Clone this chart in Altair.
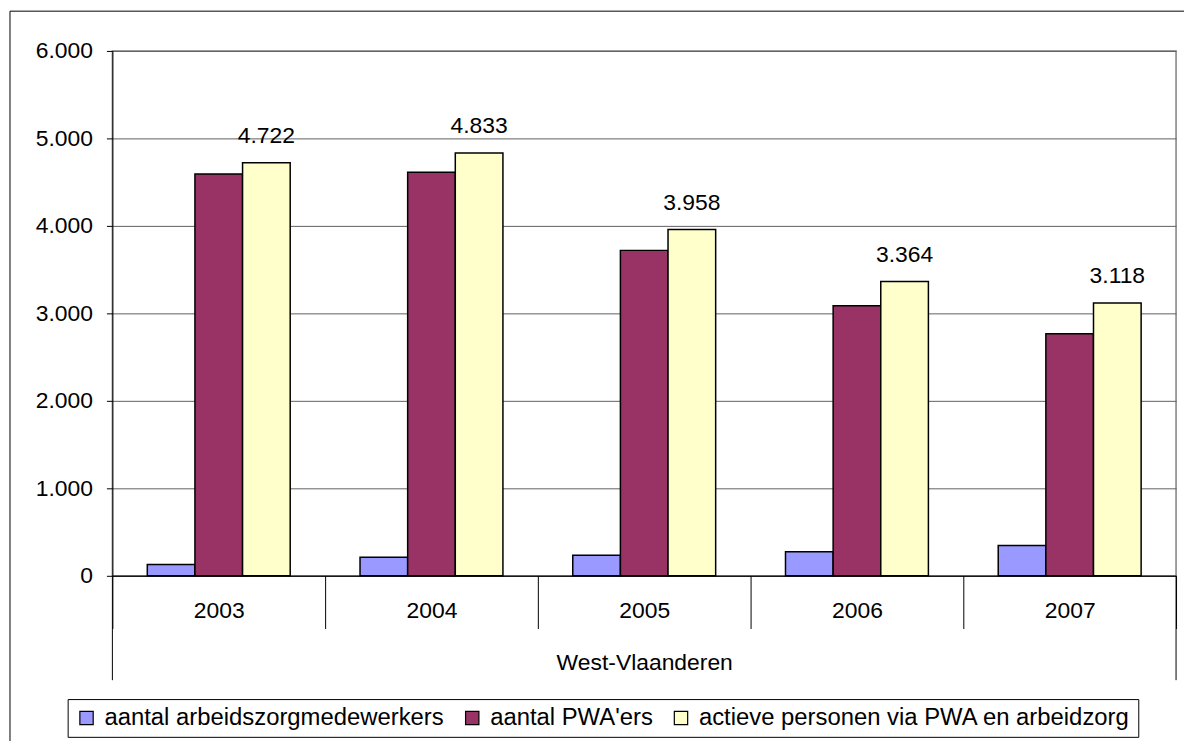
import altair as alt
import pandas as pd

years = ["2003", "2004", "2005", "2006", "2007"]
series = ["aantal arbeidszorgmedewerkers", "aantal PWA'ers", "actieve personen via PWA en arbeidzorg"]
arbeidszorg = [128, 212, 236, 274, 346]
pwa = [4592, 4612, 3720, 3088, 2768]
actief = [4722, 4833, 3958, 3364, 3118]
colors = ["#9999FF", "#993366", "#FFFFCC"]
group_label = "West-Vlaanderen"

rows = []
for s, vals in zip(series, [arbeidszorg, pwa, actief]):
    for y, v in zip(years, vals):
        rows.append({"jaar": y, "reeks": s, "waarde": v})
df = pd.DataFrame(rows)

FONT = "Liberation Sans, Arial, sans-serif"
W, H = 1070, 528

x_enc = alt.X("jaar:N", sort=years,
              scale=alt.Scale(paddingInner=0, paddingOuter=0),
              axis=alt.Axis(title=group_label, labelAngle=0, tickBand="extent",
                            tickSize=53, tickColor="black", domainColor="black",
                            labelPadding=-18.5, labelBaseline="middle",
                            labelFontSize=23, labelFont=FONT, labelColor="black",
                            titleFontSize=23, titleFont=FONT, titleFontWeight="normal",
                            titleColor="black", titleY=87, titleBaseline="middle"))
xoff = alt.XOffset("reeks:N", sort=series,
                   scale=alt.Scale(domain=series, paddingOuter=0.733, paddingInner=0))
y_enc = alt.Y("waarde:Q",
              scale=alt.Scale(domain=[0, 6000], nice=False),
              axis=alt.Axis(title=None, values=[0, 1000, 2000, 3000, 4000, 5000, 6000],
                            labelExpr="replace(format(datum.value, ','), ',', '.')",
                            tickSize=6, tickColor="black", domainColor="black",
                            labelPadding=14, labelFontSize=23, labelFont=FONT,
                            labelColor="black", grid=True, gridColor="#606060",
                            gridWidth=1))

bars = alt.Chart(df).mark_bar(stroke="black", strokeWidth=1.5).encode(
    x=x_enc, xOffset=xoff, y=y_enc,
    color=alt.Color("reeks:N", sort=series,
                    scale=alt.Scale(domain=series, range=colors),
                    legend=alt.Legend(title=None, orient="none", direction="horizontal",
                                      columns=3, legendX=-45, legendY=652,
                                      strokeColor="black", fillColor="white",
                                      padding=7, symbolType="square", symbolSize=180,
                                      symbolStrokeColor="black", symbolStrokeWidth=1.2,
                                      symbolOpacity=1, labelFontSize=24, labelFont=FONT,
                                      labelColor="black", labelOffset=6,
                                      columnPadding=16, labelLimit=600)),
)

labels = alt.Chart(df).transform_filter(
    alt.datum.reeks == series[2]
).transform_calculate(
    tekst="replace(format(datum.waarde, ','), ',', '.')"
).mark_text(fontSize=23, font=FONT, color="black", baseline="alphabetic", dy=-20).encode(
    x=alt.X("jaar:N", sort=years), xOffset=alt.XOffset("reeks:N", sort=series),
    y="waarde:Q", text="tekst:N",
)

one = pd.DataFrame({"a": [0]})
border_top = alt.Chart(one).mark_rule(color="black", strokeWidth=1).encode(
    x=alt.value(-103), x2=alt.value(W + 200), y=alt.value(-40))
border_left = alt.Chart(one).mark_rule(color="black", strokeWidth=1).encode(
    x=alt.value(-103), y=alt.value(-40), y2=alt.value(H + 400))
rule_l = alt.Chart(one).mark_rule(color="black", strokeWidth=1).encode(
    x=alt.value(0), y=alt.value(H), y2=alt.value(H + 105))
rule_r = alt.Chart(one).mark_rule(color="black", strokeWidth=1).encode(
    x=alt.value(W), y=alt.value(H), y2=alt.value(H + 105))

chart = alt.layer(border_top, border_left, bars, labels, rule_l, rule_r).properties(
    width=W, height=H,
    autosize=alt.AutoSizeParams(type="none"),
    padding={"left": 105, "top": 41, "right": 8, "bottom": 164},
    background="white",
).configure_view(stroke="#808080", strokeWidth=1.5)

chart.save("out.html", embed_options={"renderer": "svg", "actions": False})
